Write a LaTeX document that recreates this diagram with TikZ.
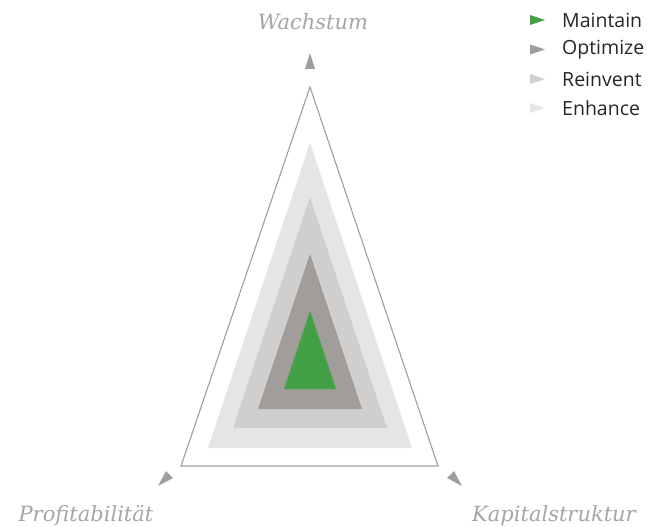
\documentclass[tikz,border=0pt]{standalone}
\usepackage{fontspec}
\setmainfont{DejaVu Serif}
\newfontfamily\legendfont{Open Sans}
\newfontfamily\axisfont{DejaVu Serif}
\definecolor{maintain}{HTML}{43A047}
\definecolor{optimize}{HTML}{A09D9A}
\definecolor{reinvent}{HTML}{D0CFCE}
\definecolor{enhance}{HTML}{E5E5E5}
\definecolor{frame}{HTML}{9E9E9E}
\definecolor{axislabel}{HTML}{A8A5A2}
\begin{document}
\begin{tikzpicture}[x=1pt,y=-1pt,
  axislbl/.style={text=axislabel,font=\axisfont\itshape\fontsize{21}{24}\selectfont,inner sep=0pt},
  legendlbl/.style={text=black!85,font=\legendfont\fontsize{19.5}{22}\selectfont,inner sep=0pt,anchor=west},
  marker/.style={fill=optimize,draw=none}]
\useasboundingbox (0,0) rectangle (665,527);
% outer frame
\draw[frame,line width=1.1pt,line join=miter] (310,87) -- (438,466) -- (181,466) -- cycle;
% nested levels
\fill[enhance]  (310,143) -- (412,448) -- (208,448) -- cycle;
\fill[reinvent] (310,197) -- (387,428) -- (233,428) -- cycle;
\fill[optimize] (310,254) -- (362,409) -- (258,409) -- cycle;
\fill[maintain] (310,311) -- (336,389) -- (284,389) -- cycle;
% axis markers
\fill[marker] (310,53) -- (315,69) -- (305,69) -- cycle;
\fill[marker] (158,486) -- (173,478) -- (166,471) -- cycle;
\fill[marker] (462,486) -- (447,478) -- (454,471) -- cycle;
% axis labels
\node[axislbl] (wachstum) at (313,22) {Wachstum};
\node[axislbl] (profit) at (86,516) {Profitabilität};
\node[axislbl] (kapital) at (554,516) {Kapitalstruktur};
% legend
\fill[maintain] (530,15) -- (545,20) -- (530,25) -- cycle;
\fill[optimize] (530,44.5) -- (545,49.5) -- (530,54.5) -- cycle;
\fill[reinvent] (530,74) -- (545,79) -- (530,84) -- cycle;
\fill[enhance]  (530,103) -- (545,108) -- (530,113) -- cycle;
\node[legendlbl] (lm) at (562,20) {Maintain};
\node[legendlbl] (lo) at (562,49.5) {Optimize};
\node[legendlbl] (lr) at (562,79) {Reinvent};
\node[legendlbl] (le) at (562,108) {Enhance};
\end{tikzpicture}
\end{document}
